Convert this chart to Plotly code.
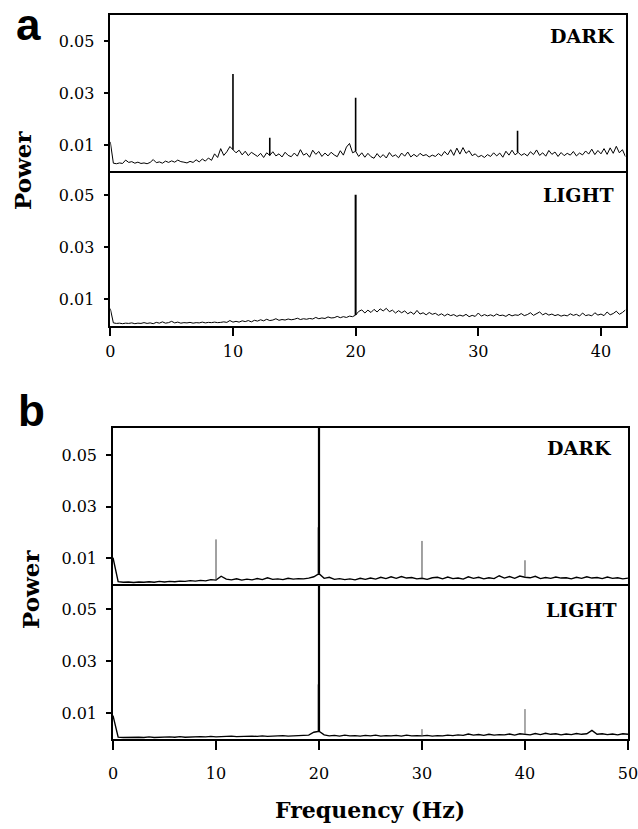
import numpy as np
import plotly.graph_objects as go

# ---------------- data (power values in units of 1e-3) ----------------
FREQ_STEP_A = 0.25   # Hz, panel a sampling grid
FREQ_STEP_B = 0.5    # Hz, panel b sampling grid

dark_a = [
    11.2, 3.0, 2.8, 3.1, 2.9, 4.2, 3.3, 3.6,
    3.0, 3.4, 2.9, 3.1, 2.8, 3.3, 4.4, 3.2,
    3.5, 3.0, 3.8, 3.3, 3.9, 3.4, 4.2, 3.6,
    3.4, 3.1, 3.7, 3.3, 4.3, 3.5, 4.6, 3.8,
    5.0, 4.1, 6.6, 5.2, 8.6, 6.0, 7.4, 9.4,
    8.2, 7.0, 8.0, 6.2, 7.6, 5.9, 7.2, 6.4,
    5.6, 6.8, 5.2, 7.0, 6.0, 7.4, 5.8, 6.6,
    5.4, 7.2, 6.0, 5.5, 6.9, 5.7, 8.2, 6.1,
    6.8, 5.3, 8.0, 6.4, 7.5, 5.6, 6.9, 5.8,
    7.2, 6.2, 5.5, 7.8, 6.1, 9.2, 10.6, 7.0,
    7.6, 5.6, 7.0, 5.3, 6.8, 5.5, 4.9, 6.7,
    5.2, 6.3, 5.0, 7.1, 5.6, 6.2, 5.1, 6.9,
    5.7, 7.3, 5.4, 6.4, 5.5, 6.8, 5.9, 6.3,
    5.4, 6.1, 5.6, 6.7, 5.8, 7.5, 6.2, 8.2,
    6.0, 8.8, 6.5, 9.0, 6.8, 7.8, 5.9, 6.6,
    5.4, 6.0, 5.2, 6.3, 5.6, 7.0, 5.8, 6.9,
    5.3, 7.6, 6.1, 8.0, 6.2, 7.2, 6.0, 6.7,
    5.8, 7.4, 6.3, 8.1, 6.0, 7.0, 5.7, 7.9,
    6.4, 7.3, 5.6, 7.1, 5.9, 6.8, 6.1, 7.5,
    5.8, 6.9, 6.2, 7.7, 6.5, 8.4, 6.3, 7.9,
    6.6, 8.6, 6.4, 8.9, 6.8, 9.5, 7.0, 8.2,
    5.5,
]

light_a = [
    6.5, 1.0, 0.8, 0.9, 0.7, 0.9, 0.8, 1.0,
    0.7, 0.9, 0.8, 1.1, 0.8, 1.0, 0.7, 1.2,
    0.9, 1.4, 0.9, 1.1, 1.6, 1.0, 1.3, 0.9,
    1.1, 1.0, 1.2, 0.9, 1.1, 1.0, 1.3, 1.0,
    1.2, 1.1, 1.3, 1.1, 1.2, 1.4, 1.2, 1.9,
    1.3, 1.6, 1.3, 1.8, 1.5, 1.9, 1.4, 2.0,
    1.7, 2.2, 1.8, 2.4, 1.9, 2.1, 2.6, 2.0,
    2.3, 2.1, 2.5, 2.2, 2.4, 2.8, 2.3, 2.6,
    2.4, 2.7, 2.5, 3.1, 2.6, 2.9, 2.7, 3.3,
    2.9, 3.0, 3.5, 3.0, 3.4, 3.1, 3.6, 3.4,
    4.0, 5.4, 6.0, 4.8, 5.9, 5.0, 6.2, 5.2,
    6.4, 5.6, 6.6, 5.3, 5.9, 4.8, 5.7, 4.9,
    5.6, 4.5, 5.2, 4.3, 5.8, 4.4, 4.9, 4.1,
    5.0, 4.3, 4.7, 3.9, 4.5, 3.7, 4.4, 3.8,
    4.2, 3.5, 4.0, 3.6, 4.3, 3.4, 3.9, 3.5,
    4.8, 3.6, 4.2, 3.7, 4.1, 3.6, 4.4, 3.8,
    4.0, 3.5, 4.3, 3.7, 4.1, 3.9, 4.6, 3.8,
    4.2, 4.9, 3.9, 4.5, 5.2, 4.1, 4.7, 4.0,
    4.4, 3.8, 4.2, 3.6, 4.0, 3.7, 4.5, 3.9,
    4.3, 3.6, 4.8, 3.8, 4.1, 3.7, 4.9, 4.0,
    4.4, 3.8, 5.2, 4.1, 4.6, 5.5, 4.3, 5.0,
    6.0,
]

dark_b = [
    10.2, 0.9, 0.7, 0.8, 0.6, 0.8, 0.7, 0.9, 0.7, 1.0,
    0.8, 1.0, 0.9, 1.1, 1.0, 1.3, 1.1, 1.4, 1.2, 1.7,
    1.5, 3.0, 1.9, 1.6, 2.0, 1.5, 1.9, 1.6, 2.1, 1.7,
    2.4, 1.8, 2.0, 1.7, 2.2, 1.9, 2.1, 2.0, 2.3, 2.8,
    4.0, 2.2, 2.6, 1.8, 2.1, 1.7, 2.0, 1.6, 2.2, 1.8,
    2.3, 1.9, 2.6, 2.1, 2.8, 2.2, 2.9, 2.3, 2.5, 2.0,
    2.2, 1.8, 2.4, 2.6, 2.0, 2.7, 2.1, 2.3, 1.9, 2.8,
    2.2, 2.6, 2.0, 2.4, 2.1, 3.2, 2.3, 2.9, 2.2, 3.1,
    2.6, 2.4, 3.0, 2.1, 2.5, 2.2, 2.7, 2.3, 2.4, 2.0,
    2.6, 2.2, 2.8, 2.3, 2.5, 2.1, 2.7, 2.2, 2.4, 2.0,
    2.3,
]

light_b = [
    9.0, 0.7, 0.6, 0.7, 0.6, 0.7, 0.6, 0.8, 0.6, 0.7,
    0.6, 0.8, 0.7, 0.9, 0.7, 0.8, 0.7, 0.9, 0.8, 1.0,
    0.8, 0.9, 0.8, 1.1, 0.9, 1.0, 0.9, 1.1, 1.0, 1.2,
    1.0, 1.1, 1.0, 1.3, 1.1, 1.2, 1.3, 1.4, 1.5, 2.6,
    3.0, 1.6, 1.2, 1.4, 1.1, 1.5, 1.2, 1.3, 1.1, 1.4,
    1.2, 1.5, 1.1, 1.3, 1.2, 1.4, 1.1, 1.5, 1.2, 1.3,
    1.2, 1.4, 1.1, 1.3, 1.2, 1.5, 1.3, 1.6, 1.4, 1.9,
    1.5, 1.7, 1.4, 1.8, 1.5, 1.7, 1.6, 1.9, 1.5, 2.0,
    1.9, 1.6, 2.1, 1.7, 2.2, 1.8, 2.0, 1.6, 1.9, 1.7,
    2.1, 1.8, 2.0, 3.3, 1.8, 2.0, 1.7, 1.9, 1.6, 2.0,
    1.8,
]

# narrow spectral peaks (frequency in Hz, power in 1e-3)
dark_a_peak_freq = [10.0, 13.0, 20.0, 33.2]
dark_a_peak_pow = [37.3, 12.8, 28.2, 15.5]
light_a_peak_freq = [20.0]
light_a_peak_pow = [50.3]
dark_b_peak_freq = [10.0, 19.92, 20.0, 30.0, 40.0]
dark_b_peak_pow = [17.3, 22.0, 80.0, 16.7, 9.2]
light_b_peak_freq = [19.92, 20.0, 30.0, 40.0]
light_b_peak_pow = [21.0, 80.0, 3.8, 11.5]

x_ticks_a = [0, 10, 20, 30, 40]
x_ticks_b = [0, 10, 20, 30, 40, 50]
y_tick_vals = [0.01, 0.03, 0.05]
y_tick_text = ["0.01", "0.03", "0.05"]

SCALE = 1e-3

# ---------------- layout helpers ----------------
W, H = 638, 829
def px_x(p):
    return p / W
def px_y(p):
    return 1 - p / H

def grid(values, step):
    return np.arange(len(values)) * step

fa_d = grid(dark_a, FREQ_STEP_A)
fa_l = grid(light_a, FREQ_STEP_A)
fb_d = grid(dark_b, FREQ_STEP_B)
fb_l = grid(light_b, FREQ_STEP_B)

fig = go.Figure()
LINE = "black"

def add_series(freq, vals, pf, pp, xa, ya, w, pw_small, pw_big, big_color, small_color):
    vals = np.asarray(vals)
    fig.add_trace(go.Scatter(x=freq, y=vals * SCALE, mode="lines",
                             line=dict(color=LINE, width=w), xaxis=xa, yaxis=ya,
                             showlegend=False, hoverinfo="skip"))
    for f, p in zip(pf, pp):
        i = int(np.argmin(np.abs(freq - f)))
        big = p > 30
        fig.add_trace(go.Scatter(
            x=[f, f], y=[vals[i] * SCALE, p * SCALE], mode="lines",
            line=dict(color=big_color if big else small_color,
                      width=pw_big if big else pw_small),
            xaxis=xa, yaxis=ya, showlegend=False, hoverinfo="skip"))

add_series(fa_d, dark_a, dark_a_peak_freq, dark_a_peak_pow, "x2", "y", 1.0, 1.6, 1.6, LINE, LINE)
add_series(fa_l, light_a, light_a_peak_freq, light_a_peak_pow, "x", "y2", 1.0, 1.6, 2.0, LINE, LINE)
add_series(fb_d, dark_b, dark_b_peak_freq, dark_b_peak_pow, "x4", "y3", 1.4, 1.0, 2.2, LINE, "#444")
add_series(fb_l, light_b, light_b_peak_freq, light_b_peak_pow, "x3", "y4", 1.4, 1.0, 2.2, LINE, "#555")

TICKFONT = dict(family="DejaVu Serif", size=16, color="black")
BASE = dict(showline=True, linecolor="black", linewidth=1.5,
            showgrid=False, zeroline=False, automargin=False)

def yax(dom_top, dom_bot, rng, anchor):
    return dict(domain=[px_y(dom_bot), px_y(dom_top)], range=rng, anchor=anchor,
                tickmode="array", tickvals=y_tick_vals, ticktext=y_tick_text,
                ticks="outside", ticklen=5, tickwidth=1.5, tickcolor="black",
                tickfont=TICKFONT, ticklabelstandoff=6, mirror=True, **BASE)

def xax_main(dom, rng, ticks, anchor, standoff):
    return dict(domain=dom, range=rng, anchor=anchor, tickmode="array",
                tickvals=ticks, ticktext=[str(t) for t in ticks],
                ticks="outside", ticklen=9, tickwidth=1.5, tickcolor="black",
                tickfont=TICKFONT, ticklabelstandoff=standoff,
                ticklabeloverflow="allow", mirror=False, **BASE)

def xax_top(dom, rng, anchor, match):
    return dict(domain=dom, range=rng, anchor=anchor, matches=match,
                ticks="", showticklabels=False, mirror=True, **BASE)

dom_a = [px_x(110.3), px_x(625.5)]
dom_b = [px_x(113), px_x(628)]

fig.update_layout(
    width=W, height=H,
    margin=dict(l=0, r=0, t=0, b=0, autoexpand=False),
    paper_bgcolor="white", plot_bgcolor="white",
    xaxis=xax_main(dom_a, [0, 42], x_ticks_a, "y2", 2),
    xaxis2=xax_top(dom_a, [0, 42], "y", "x"),
    xaxis3=xax_main(dom_b, [0, 50.001], x_ticks_b, "y4", 10),
    xaxis4=xax_top(dom_b, [0, 50.001], "y3", "x3"),
    yaxis=yax(15, 171, [0, 0.06], "x2"),
    yaxis2=yax(171, 325.5, [0, 0.0594], "x"),
    yaxis3=yax(428, 584, [0, 0.0605], "x4"),
    yaxis4=yax(584, 739, [0, 0.0596], "x3"),
)

LABEL = dict(family="DejaVu Serif", size=19, color="black")
ann = []
def lab(text, xr, yc, font=LABEL, xanchor="right", angle=0):
    ann.append(dict(text=text, x=px_x(xr), y=px_y(yc), xref="paper", yref="paper",
                    xanchor=xanchor, yanchor="middle", showarrow=False,
                    font=font, textangle=angle))

lab("<b>DARK</b>", 617, 35.5)
lab("<b>LIGHT</b>", 616, 194.5)
lab("<b>DARK</b>", 614, 447.5)
lab("<b>LIGHT</b>", 619, 610)

TITLE = dict(family="DejaVu Serif", size=23, color="black")
lab("<b>Power</b>", 22, 171, TITLE, "center", -90)
lab("<b>Power</b>", 30, 590, TITLE, "center", -90)
lab("<b>Frequency (Hz)</b>", 370, 810,
    dict(family="DejaVu Serif", size=22, color="black"), "center")

PANEL = dict(family="Liberation Sans", size=44, color="black")
lab("<b>a</b>", 14, 24, PANEL, "left")
lab("<b>b</b>", 16, 410, PANEL, "left")

fig.update_layout(annotations=ann)
fig.write_html("out.html",
               config={"displayModeBar": False},
               post_script="document.body.style.margin='0';"
                           "document.body.style.overflow='hidden';")
